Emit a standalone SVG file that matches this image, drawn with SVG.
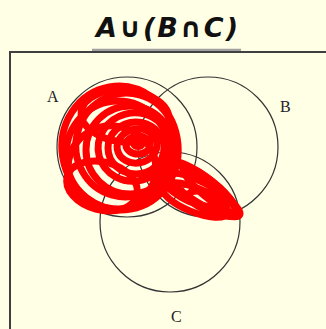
<svg xmlns="http://www.w3.org/2000/svg" width="326" height="329" viewBox="0 0 326 329">
<style>
.circ{fill:none;stroke:#333;stroke-width:1.2}
.lbl{font-family:"Liberation Serif",serif;font-size:16px;fill:#222}
.scr{fill:none;stroke:#ff0000;stroke-width:7;stroke-linecap:round}
</style>
<rect width="326" height="329" fill="#ffffe6"/>
<text x="167" y="37" text-anchor="middle" font-family="DejaVu Sans,sans-serif" font-size="27" font-style="italic" font-weight="bold" fill="#111" textLength="142" lengthAdjust="spacing">A∪(B∩C)</text>
<line x1="92" y1="50" x2="241" y2="50" stroke="#a0a0a0" stroke-width="2.5"/>
<path d="M10 329 V52 H326" fill="none" stroke="#404040" stroke-width="2"/>
<g id="A"><circle class="circ" cx="127" cy="147" r="70"/><text class="lbl" x="47" y="102">A</text></g>
<g id="B"><circle class="circ" cx="208" cy="147" r="70"/><text class="lbl" x="280" y="112">B</text></g>
<g id="C"><circle class="circ" cx="170" cy="222" r="70"/><text class="lbl" x="171" y="322">C</text></g>
<g id="scribble">
<ellipse class="scr" cx="120" cy="148" rx="58" ry="62" transform="rotate(-10 120 148)"/>
<ellipse class="scr" cx="118" cy="155" rx="52" ry="54"/>
<ellipse class="scr" cx="126" cy="145" rx="50" ry="52" transform="rotate(15 126 145)"/>
<ellipse class="scr" cx="130" cy="150" rx="44" ry="44"/>
<ellipse class="scr" cx="112" cy="168" rx="44" ry="42" transform="rotate(10 112 168)"/>
<ellipse class="scr" cx="134" cy="147" rx="36" ry="34" transform="rotate(-15 134 147)"/>
<ellipse class="scr" cx="136" cy="148" rx="28" ry="26"/>
<ellipse class="scr" cx="137" cy="146" rx="20" ry="17" transform="rotate(-10 137 146)"/>
<ellipse class="scr" cx="138" cy="145" rx="12" ry="9"/>
<ellipse class="scr" cx="138" cy="144" rx="4" ry="2.5"/>
<ellipse class="scr" cx="102" cy="186" rx="36" ry="24" transform="rotate(15 102 186)"/>
<ellipse class="scr" cx="125" cy="116" rx="44" ry="26" transform="rotate(5 125 116)"/>
<ellipse class="scr" cx="198" cy="188" rx="45" ry="14" transform="rotate(35 198 188)"/>
<ellipse class="scr" cx="205" cy="195" rx="40" ry="10" transform="rotate(30 205 195)"/>
<ellipse class="scr" cx="195" cy="200" rx="35" ry="12" transform="rotate(22 195 200)"/>
<ellipse class="scr" cx="210" cy="190" rx="34" ry="8" transform="rotate(40 210 190)"/>
<ellipse class="scr" cx="188" cy="185" rx="35" ry="14" transform="rotate(30 188 185)"/>
<ellipse class="scr" cx="212" cy="203" rx="25" ry="9" transform="rotate(20 212 203)"/>
</g>
</svg>
